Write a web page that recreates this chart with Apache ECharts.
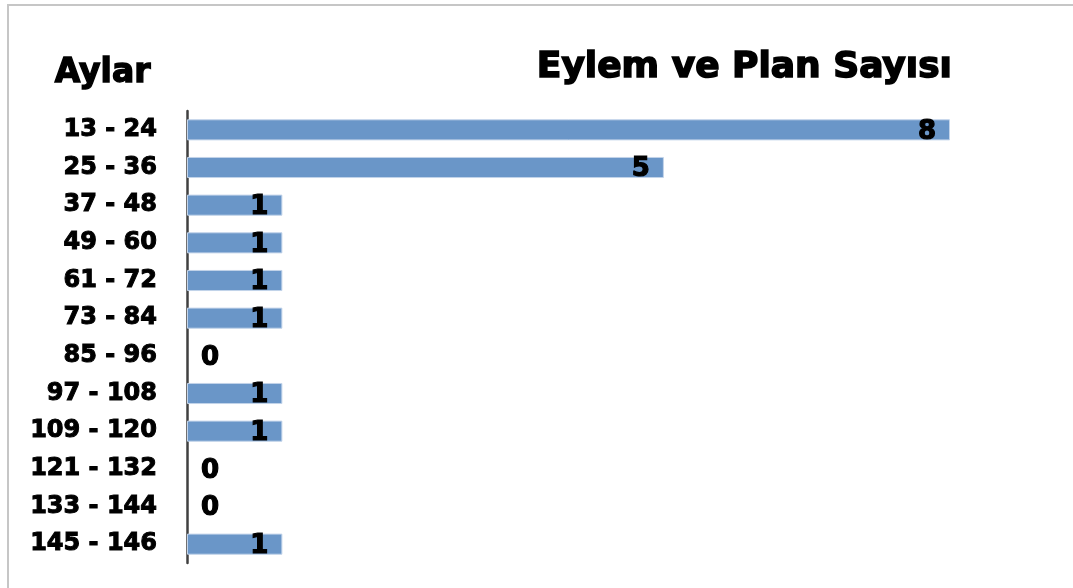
<!DOCTYPE html>
<html>
<head>
<meta charset="utf-8">
<script src="https://cdn.jsdelivr.net/npm/echarts@6/dist/echarts.min.js"></script>
<style>
  html, body { margin: 0; padding: 0; background: #fff; }
  #chart { width: 1073px; height: 588px; }
</style>
</head>
<body>
<div id="chart"></div>
<script>
// kategoriler (ay araliklari) ve eylem/plan sayilari
const categories = ['13 - 24', '25 - 36', '37 - 48', '49 - 60', '61 - 72', '73 - 84',
  '85 - 96', '97 - 108', '109 - 120', '121 - 132', '133 - 144', '145 - 146'];
const counts = [8, 5, 1, 1, 1, 1, 0, 1, 1, 0, 0, 1];

const font = 'DejaVu Sans';
let myChart = echarts.init(document.getElementById('chart'));

// sifir degerler icin etiket eksenin sagina, kenarlik yok
const barData = counts.map((v) => {
  if (v === 0) {
    return {
      value: v,
      itemStyle: { borderWidth: 0 },
      label: { position: 'right', distance: 14 }
    };
  }
  return v;
});

myChart.setOption({
  animation: false,
  graphic: [
    {
      type: 'rect',
      shape: { x: 8, y: 5, width: 1100, height: 620 },
      style: { fill: 'none', stroke: '#c6c6c6', lineWidth: 2 }
    },
    {
      type: 'text',
      left: 54,
      top: 56,
      style: {
        text: 'Aylar', font: 'bold 33px "DejaVu Sans"', fill: '#000',
        stroke: '#000', lineWidth: 1.4
      }
    },
    {
      type: 'text',
      left: 536,
      top: 49,
      style: {
        text: 'Eylem ve Plan Sayısı', font: 'bold 36px "DejaVu Sans"', fill: '#000',
        stroke: '#000', lineWidth: 1.6
      }
    }
  ],
  grid: {
    left: 187,
    right: 123,
    top: 111,
    bottom: 25
  },
  xAxis: {
    type: 'value',
    min: 0,
    max: 8,
    show: false
  },
  yAxis: {
    type: 'category',
    inverse: true,
    data: categories,
    axisLine: { lineStyle: { color: '#404040', width: 2.5 } },
    axisTick: { show: false },
    axisLabel: {
      color: '#000',
      fontFamily: font,
      fontWeight: 'bold',
      fontSize: 24,
      margin: 30,
      padding: [5, 0, 0, 0],
      textBorderColor: '#000',
      textBorderWidth: 1
    }
  },
  series: [
    {
      type: 'bar',
      data: barData,
      barCategoryGap: '44%',
      itemStyle: {
        color: '#6a96c8',
        borderColor: '#c3d4ea',
        borderWidth: 1
      },
      label: {
        show: true,
        position: 'insideRight',
        distance: 14,
        color: '#000',
        fontFamily: font,
        fontWeight: 'bold',
        fontSize: 26,
        offset: [0, 2],
        textBorderColor: '#000',
        textBorderWidth: 1.2
      }
    }
  ]
});
window.onresize = myChart.resize;
</script>
</body>
</html>
